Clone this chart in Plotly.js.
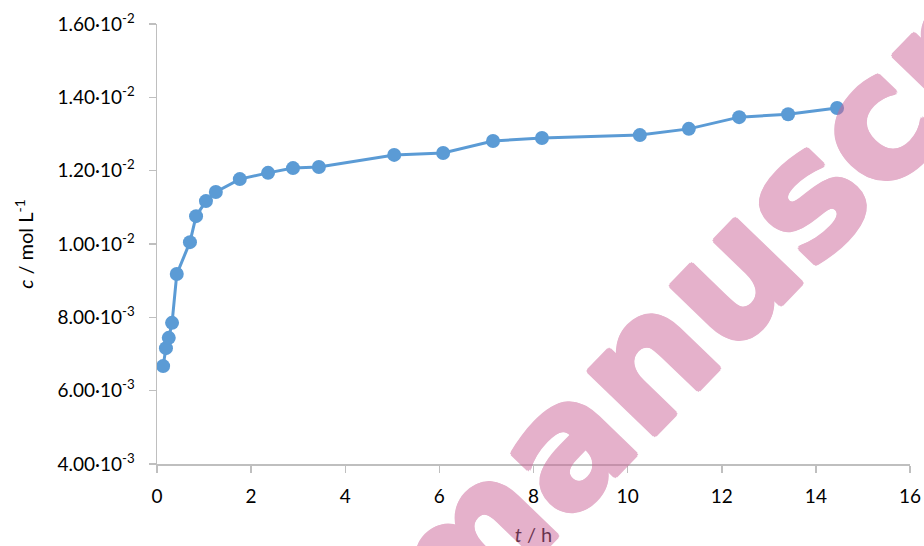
<!DOCTYPE html>
<html>
<head>
<meta charset="utf-8">
<script src="https://cdn.plot.ly/plotly-3.0.1.min.js"></script>
<style>html,body{margin:0;padding:0;background:#fff;}#chart{width:924px;height:546px;}</style>
</head>
<body>
<div id="chart"></div>
<script>
// time in hours
const tHours = [0.13, 0.19, 0.25, 0.32, 0.42, 0.70, 0.83, 1.04, 1.25, 1.76, 2.36, 2.89, 3.44, 5.04, 6.08, 7.14, 8.18, 10.26, 11.30, 12.37, 13.41, 14.45];
// concentration in mol/L
const conc = [6.67e-3, 7.16e-3, 7.44e-3, 7.85e-3, 9.18e-3, 10.05e-3, 10.76e-3, 11.17e-3, 11.42e-3, 11.77e-3, 11.94e-3, 12.07e-3, 12.10e-3, 12.43e-3, 12.48e-3, 12.81e-3, 12.89e-3, 12.97e-3, 13.14e-3, 13.46e-3, 13.54e-3, 13.71e-3];
const yTickVals = [0.004, 0.006, 0.008, 0.010, 0.012, 0.014, 0.016];
const yTickText = ['4.00·10<sup>-3</sup>', '6.00·10<sup>-3</sup>', '8.00·10<sup>-3</sup>', '1.00·10<sup>-2</sup>', '1.20·10<sup>-2</sup>', '1.40·10<sup>-2</sup>', '1.60·10<sup>-2</sup>'];
const xTickVals = [0, 2, 4, 6, 8, 10, 12, 14, 16];
const watermarkText = 'manuscript';

const font = {family: 'Lato, "Open Sans", sans-serif', size: 19, color: '#000'};
const trace = {
  x: tHours, y: conc, type: 'scatter', mode: 'lines+markers',
  line: {color: '#5b9bd5', width: 3},
  marker: {color: '#5b9bd5', size: 14},
  cliponaxis: false, showlegend: false
};
const wmColor = '#cc6699';
const d = 2.5;
const wmShadow = [[d,0],[-d,0],[0,d],[0,-d],[1.8,1.8],[-1.8,1.8],[1.8,-1.8],[-1.8,-1.8]]
  .map(p => p[0] + 'px ' + p[1] + 'px 0 ' + wmColor).join(', ');
const layout = {
  width: 924, height: 546,
  margin: {l: 157, r: 14, t: 24, b: 82},
  paper_bgcolor: '#fff', plot_bgcolor: '#fff',
  font: font,
  xaxis: {
    range: [0, 16], tickvals: xTickVals, ticktext: xTickVals.map(String),
    showgrid: false, zeroline: false, showline: true, linecolor: '#bfbfbf', linewidth: 1.5,
    ticks: 'outside', ticklen: 7, tickcolor: '#bfbfbf', tickwidth: 1.5,
    ticklabelstandoff: 8,
    tickfont: font,
    title: {text: '<i>t</i> / h', font: {family: font.family, size: 20, color: '#000'}, standoff: 25}
  },
  yaxis: {
    range: [0.004, 0.016], tickvals: yTickVals, ticktext: yTickText,
    showgrid: false, zeroline: false, showline: true, linecolor: '#bfbfbf', linewidth: 1.5,
    ticks: 'outside', ticklen: 7, tickcolor: '#bfbfbf', tickwidth: 1.5,
    ticklabelstandoff: 10,
    tickfont: font,
    title: {text: '<i>c</i> / mol L<sup>-1</sup>', font: {family: font.family, size: 20, color: '#000'}, standoff: 18}
  },
  annotations: [{
    xref: 'paper', yref: 'paper', x: 0.8194, y: 0.536,
    xanchor: 'center', yanchor: 'middle',
    text: watermarkText, showarrow: false, textangle: -46, opacity: 0.5,
    font: {family: '"DejaVu Sans", sans-serif', weight: 'bold', size: 168, color: wmColor, shadow: wmShadow}
  }]
};
Plotly.newPlot('chart', [trace], layout, {staticPlot: true, displayModeBar: false});
</script>
</body>
</html>
